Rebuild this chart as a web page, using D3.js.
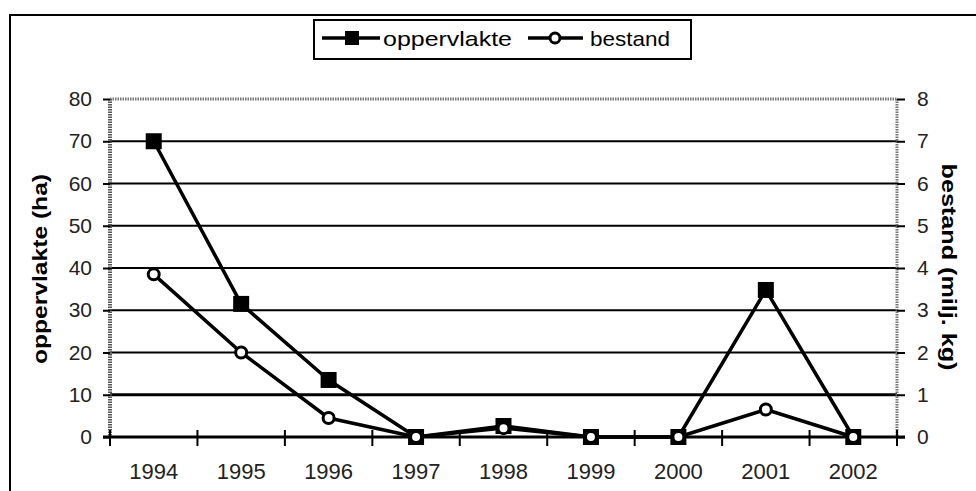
<!DOCTYPE html>
<html><head><meta charset="utf-8">
<script src="https://cdn.jsdelivr.net/npm/d3@7"></script>
<style>
html,body{margin:0;padding:0;background:#fff;}
svg{display:block;font-family:"Liberation Sans",Arial,sans-serif;}
</style></head>
<body>
<svg id="c" width="976" height="491"></svg>
<script>
const years = ["1994","1995","1996","1997","1998","1999","2000","2001","2002"];
const oppervlakte = [70, 31.5, 13.5, 0, 2.6, 0, 0, 34.8, 0];
const bestand = [3.85, 2.0, 0.45, 0, 0.21, 0, 0, 0.65, 0];
const leftTicks = [0,10,20,30,40,50,60,70,80];
const rightTicks = [0,1,2,3,4,5,6,7,8];
const seriesNames = ["oppervlakte","bestand"];
const axisTitles = ["oppervlakte (ha)","bestand (milj. kg)"];

const svg = d3.select("#c");
const L = 110, R = 897, T = 99, B = 437;
const x = d3.scaleBand().domain(years).range([L, R]).padding(0);
const yL = d3.scaleLinear().domain([0, 80]).range([B, T]);
const yR = d3.scaleLinear().domain([0, 8]).range([B, T]);

// outer frame
svg.append("rect").attr("x",10).attr("y",15).attr("width",1000).attr("height",520)
  .attr("fill","none").attr("stroke","#000").attr("stroke-width",2);

// gridlines
svg.append("g").selectAll("line").data(leftTicks.filter(d=>d>0 && d<80)).join("line")
  .attr("x1",L).attr("x2",R).attr("y1",d=>yL(d)).attr("y2",d=>yL(d))
  .attr("stroke","#000").attr("stroke-width",d=>d===10?3:2);

// plot frame: top, left, right dithered gray
svg.append("line").attr("x1",L).attr("x2",R).attr("y1",T).attr("y2",T)
  .attr("stroke","#777").attr("stroke-width",3).attr("stroke-dasharray","1.5,1");
svg.append("line").attr("x1",L).attr("x2",L).attr("y1",T).attr("y2",B)
  .attr("stroke","#555").attr("stroke-width",4).attr("stroke-dasharray","1.5,1");
svg.append("line").attr("x1",R).attr("x2",R).attr("y1",T).attr("y2",B)
  .attr("stroke","#777").attr("stroke-width",3).attr("stroke-dasharray","1.5,1");

// left axis
const axL = svg.append("g").attr("transform",`translate(${L},0)`)
  .call(d3.axisLeft(yL).tickValues(leftTicks).tickSize(7).tickPadding(11).tickFormat(d3.format("d")));
axL.select(".domain").remove();
axL.selectAll("line").attr("stroke","#000").attr("stroke-width",2);
axL.selectAll("text").attr("font-size",21).attr("fill","#222").attr("font-family","Liberation Sans, Arial, sans-serif");

// right axis
const axR = svg.append("g").attr("transform",`translate(${R},0)`)
  .call(d3.axisRight(yR).tickValues(rightTicks).tickSize(8).tickPadding(12).tickFormat(d3.format("d")));
axR.select(".domain").remove();
axR.selectAll("line").attr("stroke","#000").attr("stroke-width",2);
axR.selectAll("text").attr("font-size",21).attr("fill","#222").attr("font-family","Liberation Sans, Arial, sans-serif");

// baseline
svg.append("line").attr("x1",L-7).attr("x2",R+8).attr("y1",B).attr("y2",B)
  .attr("stroke","#000").attr("stroke-width",3);

// x axis ticks at band boundaries
const bounds = years.map(d=>x(d)).concat([R]);
svg.append("g").selectAll("line").data(bounds).join("line")
  .attr("x1",d=>d).attr("x2",d=>d).attr("y1",B-7).attr("y2",B+9)
  .attr("stroke","#000").attr("stroke-width",2);
// x labels
svg.append("g").selectAll("text").data(years).join("text")
  .attr("x",d=>x(d)+x.bandwidth()/2).attr("y",479)
  .attr("text-anchor","middle").attr("font-size",22).attr("fill","#222").text(d=>d);

// axis titles
svg.append("text").attr("transform",`translate(47,269) rotate(-90)`)
  .attr("text-anchor","middle").attr("font-size",20).attr("font-weight","bold")
  .attr("textLength",190).attr("lengthAdjust","spacingAndGlyphs").text(axisTitles[0]);
svg.append("text").attr("transform",`translate(942,267) rotate(90)`)
  .attr("text-anchor","middle").attr("font-size",20).attr("font-weight","bold")
  .attr("textLength",207).attr("lengthAdjust","spacingAndGlyphs").text(axisTitles[1]);

const cx = d => x(d)+x.bandwidth()/2;
// series oppervlakte
const lineL = d3.line().x((d,i)=>cx(years[i])).y(d=>yL(d));
svg.append("path").datum(oppervlakte).attr("d",lineL).attr("fill","none")
  .attr("stroke","#000").attr("stroke-width",3.5).attr("stroke-linejoin","round");
svg.append("g").selectAll("rect").data(oppervlakte).join("rect")
  .attr("x",(d,i)=>cx(years[i])-8).attr("y",d=>yL(d)-8).attr("width",16).attr("height",16).attr("fill","#000");
// series bestand
const lineR = d3.line().x((d,i)=>cx(years[i])).y(d=>yR(d));
svg.append("path").datum(bestand).attr("d",lineR).attr("fill","none")
  .attr("stroke","#000").attr("stroke-width",3.5).attr("stroke-linejoin","round");
svg.append("g").selectAll("circle").data(bestand).join("circle")
  .attr("cx",(d,i)=>cx(years[i])).attr("cy",d=>yR(d)).attr("r",5.5)
  .attr("fill","#fff").attr("stroke","#000").attr("stroke-width",3);

// legend
const lg = svg.append("g");
lg.append("rect").attr("x",314).attr("y",20).attr("width",377).attr("height",39)
  .attr("fill","#fff").attr("stroke","#000").attr("stroke-width",2);
lg.append("line").attr("x1",322).attr("x2",380).attr("y1",38).attr("y2",38).attr("stroke","#000").attr("stroke-width",3.5);
lg.append("rect").attr("x",345).attr("y",31).attr("width",14).attr("height",14).attr("fill","#000");
lg.append("text").attr("x",383).attr("y",46).attr("font-size",21).attr("textLength",129)
  .attr("lengthAdjust","spacingAndGlyphs").text(seriesNames[0]);
lg.append("line").attr("x1",528).attr("x2",583).attr("y1",38).attr("y2",38).attr("stroke","#000").attr("stroke-width",3.5);
lg.append("circle").attr("cx",555).attr("cy",38).attr("r",5).attr("fill","#fff").attr("stroke","#000").attr("stroke-width",3);
lg.append("text").attr("x",590).attr("y",46).attr("font-size",21).attr("textLength",80)
  .attr("lengthAdjust","spacingAndGlyphs").text(seriesNames[1]);
</script>
</body></html>
